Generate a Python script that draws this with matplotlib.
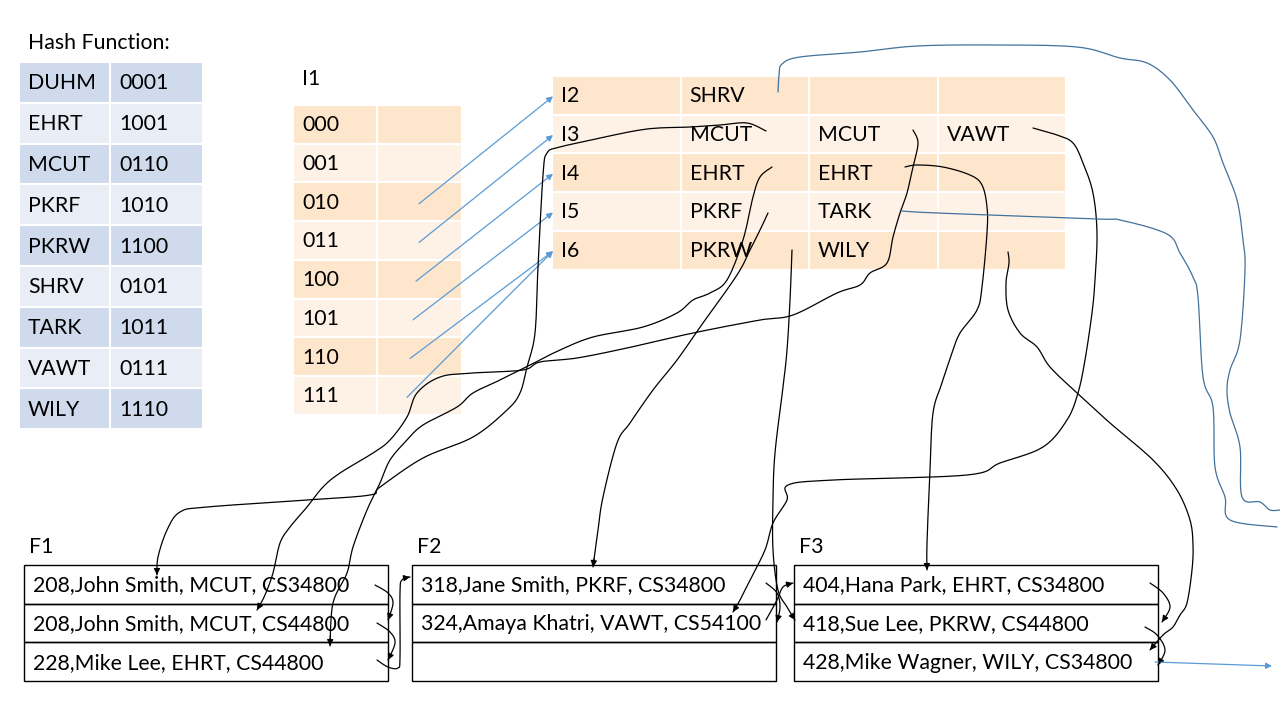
import numpy as np
import matplotlib
matplotlib.use("Agg")
from matplotlib import pyplot as plt
from matplotlib.patches import Rectangle, FancyArrowPatch

plt.rcParams['font.family'] = ['Lato', 'DejaVu Sans']

# hash function table
hash_keys = ['DUHM', 'EHRT', 'MCUT', 'PKRF', 'PKRW', 'SHRV', 'TARK', 'VAWT', 'WILY']
hash_codes = ['0001', '1001', '0110', '1010', '1100', '0101', '1011', '0111', '1110']

# directory I1 and where each entry points
i1_codes = ['000', '001', '010', '011', '100', '101', '110', '111']
i1_links = [None, None, 'I2', 'I3', 'I4', 'I5', 'I6', 'I6']

# second level index blocks
index_names = ['I2', 'I3', 'I4', 'I5', 'I6']
index_keys = [['SHRV', '', ''],
              ['MCUT', 'MCUT', 'VAWT'],
              ['EHRT', 'EHRT', ''],
              ['PKRF', 'TARK', ''],
              ['PKRW', 'WILY', '']]

# data files
file_names = ['F1', 'F2', 'F3']
f1_records = ['208,John Smith, MCUT, CS34800', '208,John Smith, MCUT, CS44800', '228,Mike Lee, EHRT, CS44800']
f2_records = ['318,Jane Smith, PKRF, CS34800', '324,Amaya Khatri, VAWT, CS54100', '']
f3_records = ['404,Hana Park, EHRT, CS34800', '418,Sue Lee, PKRW, CS44800', '428,Mike Wagner, WILY, CS34800']

BLUE = '#5B9BD5'
FS = 15.3

fig = plt.figure(figsize=(12.8, 7.2), dpi=100)
ax = fig.add_axes([0, 0, 1, 1])
ax.set_xlim(0, 1280)
ax.set_ylim(720, 0)
ax.axis('off')


def cell(x, y, w, h, color):
    ax.add_patch(Rectangle((x, y), w, h, facecolor=color, edgecolor='white', lw=1.5))


# hash table
ax.text(28, 43, 'Hash Function:', fontsize=FS, va='center')
rh = 40.8
for i, (k, c) in enumerate(zip(hash_keys, hash_codes)):
    col = '#CFDAED' if i % 2 == 0 else '#E9EDF6'
    y = 62 + i * rh
    cell(19, y, 91, rh, col)
    cell(110, y, 93, rh, col)
    ax.text(28, y + rh / 2 + 1, k, fontsize=FS, va='center')
    ax.text(119, y + rh / 2 + 1, c, fontsize=FS, va='center')

# I1 directory
ax.text(302, 79, 'I1', fontsize=FS, va='center')
rh = 38.7
i1_y = {}
for i, c in enumerate(i1_codes):
    col = '#FDE6CB' if i % 2 == 0 else '#FEF2E7'
    y = 105 + i * rh
    cell(293, y, 84, rh, col)
    cell(377, y, 85, rh, col)
    ax.text(302, y + rh / 2 + 1, c, fontsize=FS, va='center')
    i1_y[c] = y + rh / 2

# index blocks
idx_y = {}
for i, (n, keys) in enumerate(zip(index_names, index_keys)):
    col = '#FDE6CB' if i % 2 == 0 else '#FEF2E7'
    y = 76 + i * rh
    for j, t in enumerate([n] + keys):
        x = 552 + j * 128.5
        cell(x, y, 128.5, rh, col)
        if t:
            ax.text(x + 9, y + rh / 2 + 1, t, fontsize=FS, va='center')
    idx_y[n] = y + rh / 2

# pointers from I1 to index blocks
for i, (c, tgt) in enumerate(zip(i1_codes, i1_links)):
    if tgt is None:
        continue
    x0 = 419 - max(0, i - 3) * 3
    ax.add_patch(FancyArrowPatch((x0, i1_y[c] + 2), (553, idx_y[tgt] + 1), arrowstyle='-|>',
                                 mutation_scale=9, color=BLUE, lw=0.9, shrinkA=0, shrinkB=0))

# files
for fi, (name, recs) in enumerate(zip(file_names, [f1_records, f2_records, f3_records])):
    x = [24, 412, 794][fi]
    ax.text(x + 5, 547, name, fontsize=FS, va='center')
    for r, t in enumerate(recs):
        y = 565 + r * 38.7
        ax.add_patch(Rectangle((x, y), 364, 38.7, facecolor='none', edgecolor='black', lw=1))
        ax.text(x + 9, y + 38.7 / 2 + 1, t, fontsize=FS, va='center')


def smooth(pts, n=10):
    p = np.asarray(pts, float)
    p = np.vstack([p[0], p, p[-1]])
    out = []
    t = np.linspace(0, 1, n, endpoint=False)[:, None]
    for i in range(1, len(p) - 2):
        p0, p1, p2, p3 = p[i - 1], p[i], p[i + 1], p[i + 2]
        out.append(0.5 * (2 * p1 + (-p0 + p2) * t + (2 * p0 - 5 * p1 + 4 * p2 - p3) * t ** 2
                          + (-p0 + 3 * p1 - 3 * p2 + p3) * t ** 3))
    out.append(p[-2][None])
    return np.vstack(out)


def stroke(pts, color='black', arrow=True, lw=0.9):
    s = smooth(pts)
    ax.plot(s[:, 0], s[:, 1], color=color, lw=lw, solid_capstyle='round')
    if arrow:
        ax.add_patch(FancyArrowPatch(tuple(s[-4]), tuple(s[-1]), arrowstyle='-|>', mutation_scale=9,
                                     color=color, lw=lw, shrinkA=0, shrinkB=0))


# hand drawn pointers from index entries to records
stroke([(766, 131), (747, 123), (720, 125), (690, 127), (647, 129), (600, 138), (560, 147), (547, 153),
        (543, 175), (538, 267), (535, 333), (527, 367), (520, 393), (507, 410), (473, 437), (423, 458),
        (380, 487), (370, 495), (307, 500), (207, 507), (180, 512), (167, 530), (158, 557), (157, 575)])
stroke([(913, 130), (918, 143), (913, 167), (907, 193), (900, 213), (893, 237), (887, 263), (870, 273),
        (860, 285), (837, 293), (793, 315), (760, 320), (693, 333), (627, 348), (577, 358), (540, 362),
        (523, 370), (473, 373), (440, 377), (417, 393), (407, 417), (390, 440), (373, 453), (340, 473),
        (323, 487), (307, 507), (290, 527), (280, 543), (273, 573), (265, 595), (257, 610)])
stroke([(772, 167), (760, 177), (753, 197), (743, 240), (727, 280), (710, 293), (693, 300), (677, 313),
        (643, 327), (593, 337), (560, 350), (540, 360), (500, 380), (473, 393), (457, 407), (423, 425),
        (407, 440), (390, 460), (380, 483), (367, 510), (353, 547), (347, 573), (333, 603), (330, 646)])
stroke([(768, 213), (760, 230), (750, 250), (737, 275), (703, 323), (677, 360), (653, 390), (630, 423),
        (617, 443), (603, 497), (598, 530), (593, 567)])
stroke([(905, 167), (917, 165), (943, 167), (970, 175), (982, 185), (987, 207), (987, 233), (982, 287),
        (977, 310), (960, 333), (952, 353), (942, 383), (933, 413), (930, 470), (927, 543), (927, 570)])
stroke([(1033, 128), (1057, 135), (1073, 143), (1083, 163), (1093, 193), (1097, 233), (1095, 280),
        (1092, 313), (1085, 360), (1078, 393), (1067, 420), (1043, 447), (1000, 463), (967, 475),
        (833, 480), (788, 485), (787, 500), (773, 523), (765, 550), (750, 580), (740, 600), (733, 612)])
stroke([(792, 250), (790, 300), (787, 350), (783, 387), (775, 453), (773, 500), (773, 550), (778, 590),
        (787, 607), (795, 620)])
stroke([(1008, 252), (1009, 263), (1006, 283), (1008, 310), (1020, 333), (1037, 347), (1050, 367),
        (1077, 393), (1110, 423), (1153, 460), (1177, 490), (1190, 520), (1193, 545), (1192, 570),
        (1187, 603), (1180, 615), (1173, 627), (1163, 635), (1150, 650)])

# chains between records
stroke([(375, 585), (388, 593), (393, 603), (388, 620)])
stroke([(377, 623), (390, 632), (395, 643), (388, 660)])
stroke([(377, 660), (388, 667), (398, 668), (400, 657), (400, 593), (402, 580), (410, 577)])
stroke([(766, 583), (777, 593), (780, 607), (777, 622)])
stroke([(766, 620), (777, 600), (783, 587), (793, 583)])
stroke([(1150, 583), (1163, 593), (1170, 607), (1162, 622)])
stroke([(1145, 627), (1157, 635), (1165, 650), (1158, 665)])

# blue hand drawn overflow lines
stroke([(778, 92), (779, 75), (782, 64), (800, 57), (860, 52), (917, 46), (993, 45), (1077, 47),
        (1120, 58), (1147, 63), (1170, 80), (1193, 110), (1213, 137), (1223, 163), (1237, 200),
        (1243, 240), (1245, 270), (1240, 340), (1230, 370), (1227, 390), (1230, 413), (1240, 447),
        (1242, 497), (1260, 502), (1270, 510), (1280, 510)], color='#41719C', arrow=False)
stroke([(902, 211), (937, 213), (1097, 219), (1120, 220), (1167, 234), (1180, 253), (1193, 277),
        (1198, 297), (1203, 377), (1213, 407), (1215, 467), (1225, 497), (1230, 520), (1277, 527)],
       color='#41719C', arrow=False)
ax.add_patch(FancyArrowPatch((1155, 662), (1272, 666), arrowstyle='-|>', mutation_scale=9,
                             color=BLUE, lw=0.9, shrinkA=0, shrinkB=0))

fig.savefig('out.png', dpi=100)
